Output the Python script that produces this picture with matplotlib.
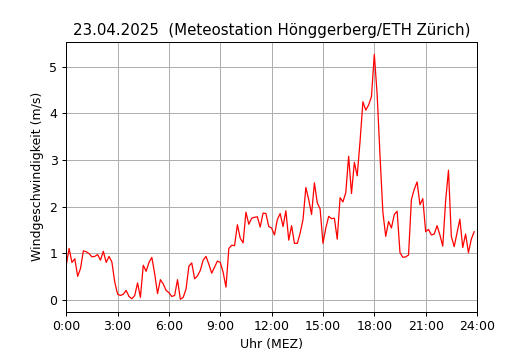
import numpy as np
import matplotlib
matplotlib.use("Agg")
import matplotlib.pyplot as plt

# 10-minute wind speed values (m/s), 0:00 to 23:50
wind = [
    0.74, 1.10, 0.80, 0.88, 0.50, 0.67, 1.05, 1.03, 0.99, 0.92, 0.93, 0.97,
    0.85, 1.04, 0.80, 0.93, 0.81, 0.38, 0.12, 0.09, 0.12, 0.20, 0.07, 0.02,
    0.09, 0.36, 0.05, 0.74, 0.61, 0.80, 0.91, 0.56, 0.13, 0.43, 0.34, 0.20,
    0.15, 0.07, 0.09, 0.43, 0.01, 0.05, 0.23, 0.72, 0.79, 0.45, 0.51, 0.63,
    0.85, 0.93, 0.76, 0.57, 0.70, 0.83, 0.80, 0.59, 0.27, 1.10, 1.17, 1.16,
    1.61, 1.32, 1.22, 1.88, 1.62, 1.75, 1.77, 1.78, 1.56, 1.86, 1.85, 1.57,
    1.54, 1.39, 1.72, 1.85, 1.57, 1.91, 1.28, 1.59, 1.21, 1.21, 1.43, 1.72,
    2.41, 2.15, 1.83, 2.51, 2.08, 1.95, 1.21, 1.54, 1.79, 1.74, 1.75, 1.30,
    2.19, 2.10, 2.30, 3.08, 2.28, 2.95, 2.66, 3.40, 4.25, 4.07, 4.18, 4.36,
    5.27, 4.40, 3.09, 1.88, 1.36, 1.68, 1.54, 1.83, 1.90, 1.01, 0.91, 0.92,
    0.96, 2.15, 2.37, 2.53, 2.04, 2.17, 1.46, 1.51, 1.39, 1.41, 1.59, 1.39,
    1.15, 2.12, 2.78, 1.36, 1.14, 1.43, 1.73, 1.12, 1.41, 1.01, 1.30, 1.46,
]
minutes = np.arange(len(wind)) * 10
hours = minutes / 60

tick_hours = [0, 3, 6, 9, 12, 15, 18, 21, 24]
tick_labels = ["%d:00" % h for h in tick_hours]

fig = plt.figure(figsize=(530 / 90, 350 / 90), dpi=90)
ax = fig.add_subplot(111)
ax.plot(hours, wind, color="red", linewidth=1)
ax.set_xlim(0, 24)
ax.set_xticks(tick_hours)
ax.set_xticklabels(tick_labels)
ax.grid(True)
ax.set_xlabel("Uhr (MEZ)")
ax.set_ylabel("Windgeschwindigkeit (m/s)")
ax.set_title("23.04.2025  (Meteostation Hönggerberg/ETH Zürich)")

fig.savefig("out.png", dpi=90)
